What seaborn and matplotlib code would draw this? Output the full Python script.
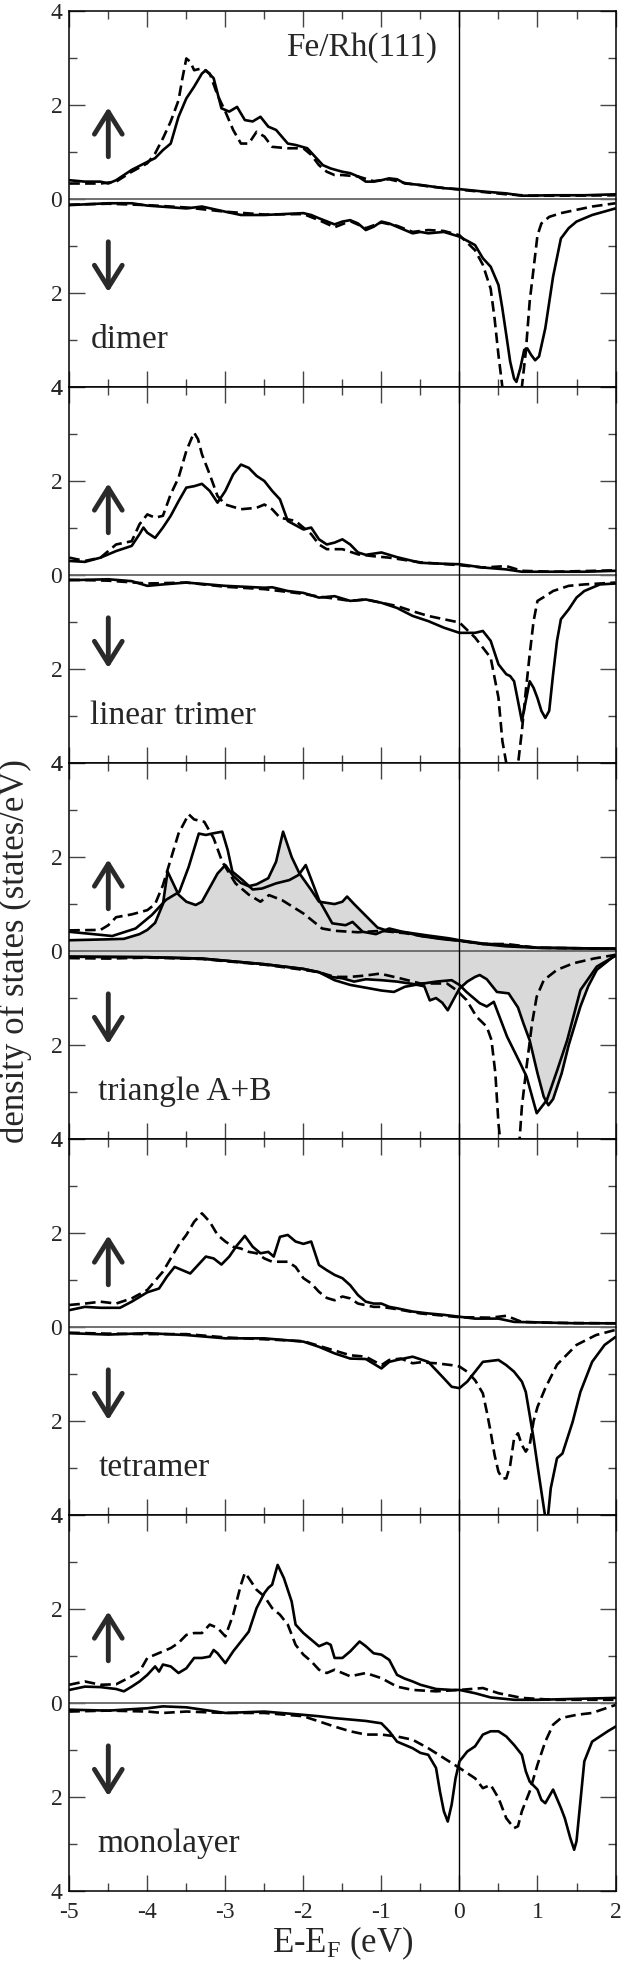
import matplotlib
matplotlib.use("Agg")
import matplotlib.pyplot as plt
from matplotlib.ticker import MultipleLocator, FuncFormatter
import seaborn as sns

# ---- dimer ----
dim_up_s_e = [-5, -4.8, -4.6, -4.5, -4.4, -4.3, -4.2, -4.0, -3.9, -3.8, -3.7, -3.6, -3.5, -3.4, -3.3, -3.25, -3.15, -3.05, -2.95, -2.85,
              -2.75, -2.65, -2.55, -2.45, -2.35, -2.2, -2.1, -1.95, -1.85, -1.75, -1.65, -1.5, -1.4, -1.3, -1.2, -1.1, -1.0, -0.9, -0.8, -0.7,
              -0.5, -0.2, 0, 0.3, 0.6, 0.8, 1.2, 1.6, 2.0]
dim_up_s = [0.40, 0.37, 0.37, 0.33, 0.40, 0.51, 0.62, 0.79, 0.87, 1.04, 1.18, 1.75, 2.14, 2.39, 2.67, 2.74, 2.57, 1.93, 1.86, 1.96,
            1.68, 1.65, 1.75, 1.54, 1.47, 1.18, 1.15, 1.08, 0.90, 0.72, 0.65, 0.58, 0.55, 0.48, 0.37, 0.37, 0.40, 0.44, 0.42, 0.33,
            0.30, 0.23, 0.21, 0.16, 0.12, 0.07, 0.08, 0.08, 0.10]
dim_up_d_e = [-5, -4.6, -4.4, -4.2, -4.0, -3.9, -3.8, -3.7, -3.6, -3.55, -3.5, -3.45, -3.4, -3.3, -3.2, -3.1, -3.0, -2.9, -2.8, -2.7,
              -2.6, -2.5, -2.4, -2.2, -2.0, -1.9, -1.8, -1.7, -1.6, -1.5, -1.3, -1.1, -0.9, -0.7, -0.4, 0, 0.3, 0.6, 0.9, 1.3, 2.0]
dim_up_d = [0.33, 0.33, 0.37, 0.58, 0.76, 0.97, 1.29, 1.65, 2.10, 2.57, 2.99, 2.92, 2.74, 2.78, 2.67, 2.21, 1.86, 1.47, 1.18, 1.18,
            1.43, 1.33, 1.11, 1.08, 1.08, 0.94, 0.72, 0.58, 0.51, 0.51, 0.48, 0.38, 0.42, 0.34, 0.27, 0.20, 0.15, 0.10, 0.07, 0.07, 0.08]
dim_dn_s_e = [-5, -4.5, -4.2, -4.0, -3.5, -3.3, -3.0, -2.8, -2.5, -2.0, -1.9, -1.8, -1.6, -1.5, -1.4, -1.3, -1.2, -1.1, -1.0, -0.9,
              -0.8, -0.6, -0.5, -0.4, -0.2, 0, 0.2, 0.3, 0.4, 0.5, 0.55, 0.6, 0.65, 0.7, 0.73, 0.78, 0.83, 0.87, 0.92, 0.97,
              1.02, 1.1, 1.2, 1.3, 1.4, 1.5, 1.7, 2.0]
dim_dn_s = [0.13, 0.09, 0.09, 0.14, 0.20, 0.16, 0.27, 0.34, 0.34, 0.30, 0.34, 0.41, 0.54, 0.48, 0.45, 0.52, 0.66, 0.59, 0.48, 0.52,
            0.59, 0.73, 0.70, 0.73, 0.70, 0.80, 0.98, 1.26, 1.44, 1.83, 2.33, 2.89, 3.46, 3.82, 3.89, 3.60, 3.21, 3.18, 3.32, 3.43,
            3.35, 2.75, 1.65, 0.84, 0.62, 0.48, 0.34, 0.20]
dim_dn_d_e = [-5, -4.5, -4.0, -3.5, -3.0, -2.5, -2.0, -1.8, -1.6, -1.4, -1.2, -1.0, -0.8, -0.6, -0.4, -0.2, 0, 0.2, 0.3, 0.4,
              0.45, 0.5, 0.55, 0.65, 0.8, 0.85, 0.9, 0.95, 1.0, 1.05, 1.15, 1.3, 1.5, 1.7, 2.0]
dim_dn_d = [0.12, 0.10, 0.13, 0.18, 0.27, 0.33, 0.32, 0.45, 0.60, 0.47, 0.62, 0.50, 0.57, 0.70, 0.66, 0.68, 0.77, 1.09, 1.40, 1.91,
            2.54, 3.32, 4.0, 4.4, 4.0, 3.25, 2.18, 1.48, 0.77, 0.52, 0.38, 0.30, 0.23, 0.16, 0.09]

# ---- linear trimer ----
lin_up_s_e = [-5, -4.8, -4.6, -4.4, -4.2, -4.1, -4.05, -4.0, -3.9, -3.8, -3.7, -3.6, -3.5, -3.4, -3.3, -3.2, -3.1, -3.0, -2.9, -2.8,
              -2.7, -2.6, -2.5, -2.4, -2.3, -2.2, -2.0, -1.9, -1.8, -1.7, -1.6, -1.5, -1.4, -1.3, -1.2, -1.0, -0.8, -0.5, -0.2, 0,
              0.3, 0.6, 0.8, 1.2, 1.6, 2.0]
lin_up_s = [0.30, 0.28, 0.37, 0.51, 0.62, 0.87, 1.01, 0.90, 0.79, 1.01, 1.26, 1.57, 1.86, 1.89, 1.94, 1.79, 1.54, 1.79, 2.14, 2.35,
            2.28, 2.11, 2.00, 1.79, 1.61, 1.15, 0.97, 1.01, 0.76, 0.65, 0.69, 0.76, 0.65, 0.48, 0.43, 0.48, 0.38, 0.26, 0.24, 0.23,
            0.16, 0.12, 0.07, 0.07, 0.07, 0.09]
lin_up_d_e = [-5, -4.8, -4.6, -4.4, -4.2, -4.1, -4.0, -3.9, -3.8, -3.7, -3.6, -3.5, -3.43, -3.4, -3.35, -3.3, -3.2, -3.1, -3.0, -2.8,
              -2.6, -2.5, -2.4, -2.3, -2.1, -1.9, -1.8, -1.7, -1.5, -1.3, -1.1, -0.9, -0.5, 0, 0.3, 0.6, 0.8, 1.2, 2.0]
lin_up_d = [0.37, 0.30, 0.37, 0.65, 0.72, 1.08, 1.29, 1.22, 1.26, 1.72, 2.07, 2.64, 2.92, 3.03, 2.89, 2.57, 2.14, 1.68, 1.50, 1.40,
            1.43, 1.50, 1.40, 1.22, 1.15, 0.87, 0.65, 0.55, 0.55, 0.44, 0.40, 0.37, 0.27, 0.21, 0.16, 0.19, 0.09, 0.07, 0.10]
lin_dn_s_e = [-5, -4.5, -4.2, -4.0, -3.8, -3.5, -3.0, -2.5, -2.4, -2.2, -2.0, -1.8, -1.6, -1.4, -1.2, -1.0, -0.8, -0.6, -0.4, -0.2,
              0, 0.2, 0.3, 0.4, 0.5, 0.6, 0.65, 0.7, 0.75, 0.8, 0.85, 0.9, 0.95, 1.0, 1.05, 1.1, 1.15, 1.2, 1.25, 1.3,
              1.4, 1.5, 1.6, 1.8, 2.0]
lin_dn_s = [0.11, 0.09, 0.13, 0.23, 0.20, 0.16, 0.23, 0.27, 0.26, 0.34, 0.38, 0.48, 0.45, 0.55, 0.52, 0.59, 0.70, 0.87, 0.98, 1.12,
            1.23, 1.23, 1.19, 1.40, 1.90, 2.11, 2.15, 2.26, 2.68, 3.11, 2.68, 2.26, 2.40, 2.62, 2.89, 3.04, 2.89, 2.11, 1.40, 0.94,
            0.73, 0.48, 0.34, 0.20, 0.18]
lin_dn_d_e = [-5, -4.5, -4.0, -3.5, -3.0, -2.5, -2.2, -2.0, -1.8, -1.6, -1.4, -1.2, -1.0, -0.8, -0.6, -0.4, -0.2, 0, 0.2, 0.4,
              0.5, 0.55, 0.6, 0.68, 0.75, 0.8, 0.85, 0.9, 0.95, 1.0, 1.1, 1.2, 1.4, 1.6, 2.0]
lin_dn_d = [0.10, 0.12, 0.18, 0.16, 0.25, 0.30, 0.36, 0.40, 0.46, 0.50, 0.55, 0.52, 0.59, 0.66, 0.77, 0.87, 0.94, 1.01, 1.33, 1.76,
            2.61, 3.53, 4.0, 4.7, 4.03, 3.32, 2.47, 1.69, 0.98, 0.55, 0.45, 0.34, 0.23, 0.20, 0.16]

# ---- triangle A+B (shaded curve, second solid curve, dashed) ----
tri_up_f_e = [-5, -4.5, -4.3, -4.1, -4.0, -3.9, -3.8, -3.74, -3.6, -3.5, -3.38, -3.3, -3.2, -3.1, -3.0, -2.9, -2.8, -2.7, -2.6, -2.45,
              -2.35, -2.26, -2.15, -2.05, -1.9, -1.8, -1.6, -1.5, -1.44, -1.35, -1.2, -1.05, -0.9, -0.7, -0.5, -0.2, 0, 0.3, 0.6, 1.0,
              1.5, 2.0]
tri_up_f = [0.23, 0.25, 0.26, 0.36, 0.45, 0.60, 1.00, 1.69, 1.20, 1.05, 0.98, 1.05, 1.35, 1.65, 1.83, 1.60, 1.45, 1.38, 1.42, 1.55,
            1.90, 2.54, 2.00, 1.65, 1.30, 1.05, 1.00, 1.05, 1.16, 1.00, 0.75, 0.50, 0.42, 0.40, 0.32, 0.25, 0.22, 0.15, 0.10, 0.07,
            0.06, 0.05]
tri_up_s_e = [-5, -4.45, -4.15, -3.94, -3.76, -3.59, -3.47, -3.34, -3.25, -3.17, -3.04, -2.97, -2.91, -2.78, -2.65, -2.53, -2.35, -2.18, -2.06, -1.97,
              -1.88, -1.80, -1.63, -1.46, -1.37, -1.24, -1.07, -0.90, -0.73, -0.4, -0.13, 0, 0.3, 0.6, 1.0, 1.5, 2.0]
tri_up_s = [0.41, 0.32, 0.48, 0.77, 1.09, 1.26, 1.79, 2.50, 2.47, 2.50, 2.54, 2.15, 1.69, 1.51, 1.31, 1.33, 1.44, 1.51, 1.62, 1.83,
            1.44, 1.09, 0.59, 0.55, 0.62, 0.41, 0.36, 0.48, 0.41, 0.33, 0.27, 0.23, 0.16, 0.13, 0.07, 0.06, 0.05]
tri_up_d_e = [-5, -4.6, -4.5, -4.4, -4.2, -4.0, -3.9, -3.8, -3.7, -3.6, -3.47, -3.4, -3.27, -3.15, -3.04, -2.87, -2.7, -2.55, -2.44, -2.27,
              -2.0, -1.76, -1.59, -1.3, -1.0, -0.7, -0.4, 0, 0.3, 0.6, 1.0, 1.5, 2.0]
tri_up_d = [0.44, 0.45, 0.55, 0.72, 0.78, 0.87, 1.00, 1.40, 1.95, 2.50, 2.91, 2.80, 2.75, 2.40, 1.90, 1.44, 1.20, 1.05, 1.19, 1.08,
            0.80, 0.48, 0.43, 0.40, 0.43, 0.38, 0.30, 0.22, 0.15, 0.15, 0.07, 0.06, 0.05]
tri_dn_f_e = [-5, -4, -3.3, -2.5, -2.0, -1.8, -1.65, -1.5, -1.35, -1.2, -1.0, -0.8, -0.6, -0.45, -0.38, -0.3, -0.22, -0.15, -0.05, 0.0,
              0.1, 0.2, 0.26, 0.35, 0.48, 0.63, 0.75, 0.82, 0.9, 1.0, 1.08, 1.14, 1.2, 1.31, 1.4, 1.55, 1.65, 1.76, 1.97, 2.0]
tri_dn_f = [0.12, 0.13, 0.16, 0.28, 0.38, 0.45, 0.55, 0.58, 0.65, 0.60, 0.62, 0.65, 0.70, 0.75, 1.05, 1.00, 1.10, 1.26, 0.95, 0.80,
            0.65, 0.55, 0.51, 0.60, 0.87, 0.90, 1.20, 1.54, 1.90, 2.60, 3.10, 3.28, 3.15, 2.60, 2.00, 1.18, 0.75, 0.40, 0.12, 0.10]
tri_dn_s_e = [-5, -4, -3.3, -2.5, -2.0, -1.8, -1.6, -1.4, -1.2, -1.0, -0.84, -0.7, -0.5, -0.3, -0.1, 0.0, 0.09, 0.26, 0.35, 0.44,
              0.61, 0.78, 0.86, 0.99, 1.12, 1.25, 1.38, 1.55, 1.76, 2.0]
tri_dn_s = [0.12, 0.13, 0.16, 0.28, 0.38, 0.45, 0.62, 0.72, 0.78, 0.84, 0.87, 0.76, 0.70, 0.65, 0.62, 0.72, 0.87, 1.11, 1.18, 1.08,
            1.82, 2.39, 2.67, 3.45, 3.17, 2.55, 1.90, 0.83, 0.33, 0.10]
tri_dn_d_e = [-5, -4.5, -4, -3.3, -2.5, -2.0, -1.8, -1.6, -1.4, -1.2, -1.02, -0.76, -0.5, -0.16, -0.04, 0.09, 0.22, 0.35, 0.41, 0.46,
              0.5, 0.55, 0.65, 0.75, 0.8, 0.86, 0.93, 0.99, 1.08, 1.25, 1.46, 1.72, 2.0]
tri_dn_d = [0.15, 0.16, 0.14, 0.17, 0.29, 0.40, 0.45, 0.55, 0.55, 0.52, 0.48, 0.58, 0.69, 0.69, 0.83, 1.04, 1.40, 1.61, 1.89, 2.60,
            3.67, 4.5, 4.9, 4.5, 3.31, 2.46, 1.54, 0.97, 0.62, 0.40, 0.26, 0.16, 0.08]

# ---- tetramer ----
tet_up_s_e = [-5, -4.8, -4.6, -4.35, -4.2, -4.0, -3.85, -3.75, -3.65, -3.55, -3.45, -3.35, -3.25, -3.15, -3.05, -2.95, -2.85, -2.75, -2.65, -2.55,
              -2.45, -2.38, -2.3, -2.2, -2.1, -2.0, -1.9, -1.8, -1.7, -1.6, -1.5, -1.4, -1.3, -1.2, -1.1, -1.0, -0.9, -0.8, -0.6, -0.4,
              -0.2, 0, 0.2, 0.5, 0.7, 1.0, 1.5, 2.0]
tet_up_s = [0.36, 0.43, 0.41, 0.41, 0.54, 0.74, 0.82, 1.07, 1.28, 1.21, 1.14, 1.32, 1.50, 1.46, 1.33, 1.50, 1.74, 1.94, 1.71, 1.57,
            1.60, 1.50, 1.92, 1.96, 1.82, 1.77, 1.82, 1.32, 1.21, 1.11, 1.04, 0.89, 0.68, 0.54, 0.50, 0.50, 0.43, 0.40, 0.33, 0.29,
            0.26, 0.22, 0.18, 0.18, 0.11, 0.10, 0.08, 0.08]
tet_up_d_e = [-5, -4.8, -4.6, -4.4, -4.2, -4.0, -3.8, -3.6, -3.5, -3.4, -3.3, -3.2, -3.1, -3.0, -2.9, -2.8, -2.7, -2.6, -2.5, -2.4,
              -2.3, -2.2, -2.1, -2.0, -1.9, -1.8, -1.7, -1.6, -1.5, -1.4, -1.3, -1.1, -1.0, -0.8, -0.5, 0, 0.4, 0.6, 0.8, 1.2, 2.0]
tet_up_d = [0.47, 0.50, 0.54, 0.50, 0.61, 0.79, 1.18, 1.74, 1.96, 2.24, 2.42, 2.24, 1.96, 1.82, 1.71, 1.67, 1.60, 1.57, 1.46, 1.39,
            1.39, 1.39, 1.28, 1.04, 0.93, 0.75, 0.62, 0.57, 0.65, 0.61, 0.50, 0.43, 0.43, 0.38, 0.29, 0.21, 0.20, 0.24, 0.11, 0.09, 0.08]
tet_dn_s_e = [-5, -4.5, -4.0, -3.5, -3.0, -2.5, -2.0, -1.8, -1.6, -1.4, -1.2, -1.0, -0.9, -0.8, -0.6, -0.4, -0.2, -0.1, 0, 0.1,
              0.2, 0.3, 0.5, 0.6, 0.7, 0.8, 0.85, 0.9, 0.95, 1.0, 1.05, 1.1, 1.13, 1.17, 1.25, 1.32, 1.45, 1.55, 1.7, 1.86, 2.0]
tet_dn_s = [0.13, 0.16, 0.13, 0.17, 0.24, 0.24, 0.31, 0.42, 0.56, 0.67, 0.68, 0.88, 0.74, 0.70, 0.63, 0.74, 1.09, 1.27, 1.30, 1.16,
            0.95, 0.74, 0.70, 0.81, 0.95, 1.16, 1.38, 1.87, 2.37, 2.94, 3.50, 4.05, 4.10, 3.43, 2.79, 2.69, 2.02, 1.38, 0.74, 0.38, 0.21]
tet_dn_d_e = [-5, -4.5, -4.0, -3.5, -3.0, -2.5, -2.0, -1.8, -1.6, -1.4, -1.2, -1.0, -0.9, -0.75, -0.6, -0.5, -0.3, -0.1, 0, 0.1,
              0.2, 0.3, 0.35, 0.4, 0.45, 0.5, 0.55, 0.6, 0.65, 0.7, 0.75, 0.8, 0.85, 0.9, 0.95, 1.0, 1.1, 1.25, 1.5, 1.75, 2.0]
tet_dn_d = [0.12, 0.14, 0.15, 0.15, 0.22, 0.26, 0.30, 0.40, 0.50, 0.60, 0.63, 0.81, 0.70, 0.67, 0.77, 0.75, 0.77, 0.81, 0.84, 0.95,
            1.13, 1.41, 1.80, 2.23, 2.72, 3.08, 3.22, 3.22, 2.94, 2.37, 2.26, 2.51, 2.65, 2.51, 2.00, 1.70, 1.30, 0.80, 0.38, 0.17, 0.06]

# ---- monolayer ----
mono_up_s_e = [-5, -4.8, -4.6, -4.4, -4.3, -4.2, -4.1, -4.0, -3.9, -3.85, -3.8, -3.7, -3.6, -3.5, -3.4, -3.3, -3.2, -3.15, -3.1, -3.0,
               -2.9, -2.8, -2.7, -2.6, -2.5, -2.45, -2.4, -2.33, -2.25, -2.15, -2.1, -2.0, -1.9, -1.8, -1.7, -1.65, -1.6, -1.5, -1.4, -1.28,
               -1.2, -1.1, -1.0, -0.9, -0.8, -0.7, -0.6, -0.5, -0.3, -0.1, 0, 0.2, 0.4, 0.7, 1.0, 1.5, 2.0]
mono_up_s = [0.28, 0.35, 0.34, 0.30, 0.25, 0.35, 0.46, 0.60, 0.78, 0.67, 0.82, 0.78, 0.64, 0.74, 0.96, 0.96, 0.99, 1.13, 1.06, 0.85,
             1.10, 1.31, 1.52, 2.02, 2.34, 2.45, 2.52, 2.94, 2.66, 2.16, 1.67, 1.49, 1.35, 1.21, 1.28, 1.24, 0.96, 0.96, 1.10, 1.31,
             1.21, 1.06, 1.03, 0.92, 0.60, 0.52, 0.46, 0.39, 0.30, 0.28, 0.28, 0.21, 0.12, 0.07, 0.07, 0.09, 0.11]
mono_up_d_e = [-5, -4.8, -4.6, -4.4, -4.2, -4.1, -4.0, -3.9, -3.8, -3.7, -3.6, -3.5, -3.4, -3.3, -3.2, -3.1, -3.0, -2.9, -2.8, -2.75,
               -2.7, -2.6, -2.5, -2.4, -2.3, -2.2, -2.1, -2.0, -1.9, -1.8, -1.7, -1.6, -1.5, -1.4, -1.2, -1.0, -0.8, -0.6, -0.3, 0,
               0.3, 0.5, 0.8, 1.2, 2.0]
mono_up_d = [0.39, 0.46, 0.39, 0.40, 0.57, 0.67, 0.96, 1.03, 1.10, 1.17, 1.28, 1.45, 1.49, 1.49, 1.67, 1.60, 1.42, 1.88, 2.52, 2.77,
             2.66, 2.41, 2.27, 2.02, 1.88, 1.67, 1.24, 1.03, 0.89, 0.71, 0.64, 0.71, 0.64, 0.57, 0.64, 0.53, 0.35, 0.28, 0.25, 0.28,
             0.32, 0.21, 0.11, 0.07, 0.07]
mono_dn_s_e = [-5, -4.5, -4.0, -3.8, -3.5, -3.0, -2.5, -2.0, -1.8, -1.6, -1.4, -1.2, -1.0, -0.9, -0.8, -0.7, -0.6, -0.5, -0.4, -0.3,
               -0.25, -0.2, -0.15, -0.1, -0.05, 0, 0.1, 0.2, 0.3, 0.4, 0.5, 0.6, 0.7, 0.8, 0.85, 0.9, 1.0, 1.05, 1.1, 1.2,
               1.3, 1.35, 1.42, 1.47, 1.5, 1.55, 1.6, 1.7, 1.8, 1.9, 2.0]
mono_dn_s = [0.14, 0.16, 0.11, 0.07, 0.09, 0.21, 0.18, 0.25, 0.28, 0.32, 0.35, 0.38, 0.43, 0.60, 0.82, 0.89, 0.96, 1.06, 1.10, 1.38,
             1.88, 2.30, 2.52, 2.16, 1.60, 1.24, 1.03, 0.92, 0.67, 0.60, 0.60, 0.71, 0.89, 1.10, 1.45, 1.67, 1.84, 2.06, 2.13, 1.84,
             2.23, 2.45, 2.87, 3.12, 2.94, 2.09, 1.24, 0.82, 0.71, 0.60, 0.50]
mono_dn_d_e = [-5, -4.5, -4.0, -3.8, -3.5, -3.0, -2.5, -2.0, -1.8, -1.6, -1.4, -1.2, -1.0, -0.8, -0.6, -0.4, -0.2, 0, 0.1, 0.2,
               0.3, 0.4, 0.5, 0.6, 0.7, 0.75, 0.8, 0.9, 1.0, 1.1, 1.2, 1.3, 1.5, 1.7, 2.0]
mono_dn_d = [0.18, 0.16, 0.18, 0.21, 0.18, 0.21, 0.21, 0.28, 0.39, 0.50, 0.60, 0.67, 0.67, 0.71, 0.78, 0.96, 1.17, 1.38, 1.49, 1.60,
             1.81, 1.74, 2.02, 2.45, 2.66, 2.62, 2.30, 1.88, 1.31, 0.82, 0.46, 0.32, 0.25, 0.21, 0.04]

panel_names = ["dimer", "linear trimer", "triangle A+B", "tetramer", "monolayer"]
label_x = [-4.73, -4.73, -4.63, -4.63, -4.64]

sns.set_theme(style="ticks")
plt.rcParams["font.family"] = ["Liberation Serif", "DejaVu Serif"]
plt.rcParams["mathtext.fontset"] = "custom"
plt.rcParams["mathtext.rm"] = "Liberation Serif"
plt.rcParams["mathtext.it"] = "Liberation Serif:italic"
plt.rcParams["axes.unicode_minus"] = False

# (energies, dos, dashed?, spin-down?)
curves = [
    [(dim_up_s_e, dim_up_s, False, False), (dim_up_d_e, dim_up_d, True, False),
     (dim_dn_s_e, dim_dn_s, False, True), (dim_dn_d_e, dim_dn_d, True, True)],
    [(lin_up_s_e, lin_up_s, False, False), (lin_up_d_e, lin_up_d, True, False),
     (lin_dn_s_e, lin_dn_s, False, True), (lin_dn_d_e, lin_dn_d, True, True)],
    [(tri_up_f_e, tri_up_f, False, False), (tri_up_s_e, tri_up_s, False, False), (tri_up_d_e, tri_up_d, True, False),
     (tri_dn_f_e, tri_dn_f, False, True), (tri_dn_s_e, tri_dn_s, False, True), (tri_dn_d_e, tri_dn_d, True, True)],
    [(tet_up_s_e, tet_up_s, False, False), (tet_up_d_e, tet_up_d, True, False),
     (tet_dn_s_e, tet_dn_s, False, True), (tet_dn_d_e, tet_dn_d, True, True)],
    [(mono_up_s_e, mono_up_s, False, False), (mono_up_d_e, mono_up_d, True, False),
     (mono_dn_s_e, mono_dn_s, False, True), (mono_dn_d_e, mono_dn_d, True, True)],
]
shaded = {2: [(tri_up_f_e, tri_up_f, False), (tri_dn_f_e, tri_dn_f, True)]}

fig, axes = plt.subplots(5, 1, figsize=(6.23, 19.66), dpi=100, sharex=True)
fig.subplots_adjust(left=0.1112, right=0.988, top=0.9944, bottom=0.0381, hspace=0)

for i, ax in enumerate(axes):
    for e, v, down in shaded.get(i, []):
        y = [-a for a in v] if down else v
        ax.fill_between(e, y, 0, color="#d9d9d9", lw=0, zorder=1)
    ax.axhline(0, color="#666666", lw=1.3, zorder=2)
    ax.axvline(0, color="black", lw=1.0, zorder=2)
    for e, v, dashed, down in curves[i]:
        y = [-a for a in v] if down else v
        sns.lineplot(x=e, y=y, ax=ax, color="black", lw=1.9, errorbar=None, zorder=3)
        if dashed:
            ax.lines[-1].set_dashes([4, 2])

    ax.set_xlim(-5, 2)
    ax.set_ylim(-4, 4)
    ax.xaxis.set_major_locator(MultipleLocator(1))
    ax.xaxis.set_minor_locator(MultipleLocator(0.5))
    ax.yaxis.set_major_locator(MultipleLocator(2))
    ax.yaxis.set_minor_locator(MultipleLocator(1))
    ax.yaxis.set_major_formatter(FuncFormatter(lambda v, p: f"{abs(v):.0f}"))
    ax.tick_params(which="both", direction="in", top=True, right=True, color="#444444", width=1.0,
                   labelsize=17)
    ax.tick_params(which="major", length=11.5)
    ax.tick_params(which="minor", length=5.8)
    ax.tick_params(axis="y", pad=5)
    ax.tick_params(axis="x", pad=8, labelbottom=(i == 4))
    for sp in ax.spines.values():
        sp.set_color("black")
        sp.set_linewidth(1.1)

    arrow = dict(arrowstyle="->,head_length=0.8,head_width=0.5", lw=3.5, color="#2a2a2a",
                 shrinkA=0, shrinkB=0, mutation_scale=20)
    ax.annotate("", xy=(-4.5, 1.95), xytext=(-4.5, 0.9), arrowprops=arrow)
    ax.annotate("", xy=(-4.5, -1.98), xytext=(-4.5, -0.91), arrowprops=arrow)
    ax.text(label_x[i], -3.0, panel_names[i], fontsize=24, ha="left", va="center")
    ax.set_ylabel("")

axes[0].text(-1.26, 3.23, "Fe/Rh(111)", fontsize=24, ha="center", va="center")
axes[-1].set_xlabel("E-E$_\\mathrm{F}$ (eV)", fontsize=25, labelpad=1)
fig.text(0.024, 0.516, "density of states (states/eV)", rotation=90, fontsize=25,
         ha="center", va="center")

fig.savefig("out.png", dpi=100)
